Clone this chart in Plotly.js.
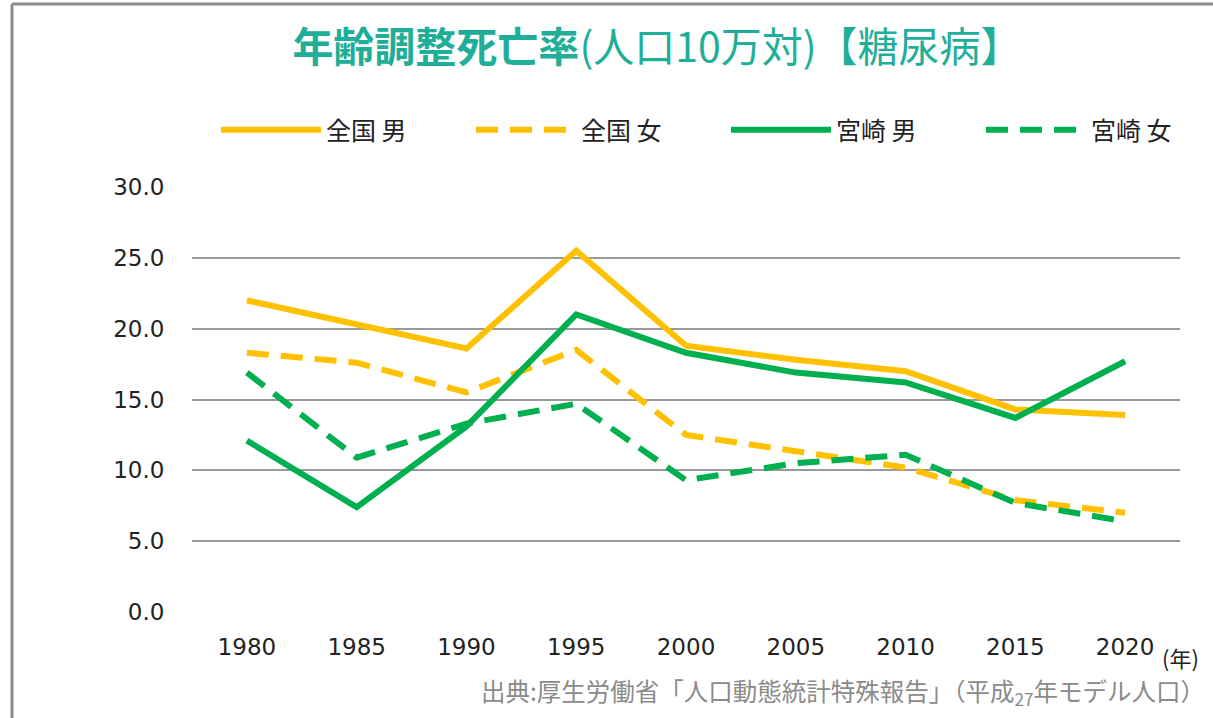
<!DOCTYPE html>
<html><head><meta charset="utf-8">
<script src="https://cdn.plot.ly/plotly-3.0.1.min.js"></script>
<style>html,body{margin:0;padding:0;background:#fff}#chart{width:1213px;height:718px}</style>
</head><body><div id="chart"></div>
<script>
const years = ['1980','1985','1990','1995','2000','2005','2010','2015','2020'];
const zenkokuMale   = [22.0, 20.3, 18.6, 25.5, 18.8, 17.8, 17.0, 14.3, 13.9];
const zenkokuFemale = [18.3, 17.6, 15.5, 18.5, 12.5, 11.4, 10.2, 7.9, 7.0];
const miyazakiMale  = [12.1, 7.4, 13.1, 21.0, 18.3, 16.9, 16.2, 13.7, 17.7];
const miyazakiFemale= [16.9, 10.9, 13.3, 14.7, 9.3, 10.5, 11.1, 7.7, 6.4];
const seriesNames = ['全国 男','全国 女','宮崎 男','宮崎 女'];

const YELLOW = '#FFC000', GREEN = '#00B050';
const W = 1213, H = 718, L = 192, R = 1180, T = 187, B = 612;
const px = x => (x - L) / (R - L);
const py = y => (B - y) / (B - T);

const traces = [
  {x: years, y: zenkokuMale, name: seriesNames[0], line:{color:YELLOW, width:6}},
  {x: years, y: zenkokuFemale, name: seriesNames[1], line:{color:YELLOW, width:6, dash:'22px,12px'}},
  {x: years, y: miyazakiMale, name: seriesNames[2], line:{color:GREEN, width:6}},
  {x: years, y: miyazakiFemale, name: seriesNames[3], line:{color:GREEN, width:6, dash:'22px,12px'}}
].map(t => Object.assign({type:'scatter', mode:'lines', hoverinfo:'skip'}, t));

const layout = {
  width: W, height: H,
  margin: {l: L, r: W - R, t: T, b: H - B, autoexpand: false},
  paper_bgcolor: '#fff', plot_bgcolor: '#fff',
  font: {family: 'DejaVu Sans, Verdana, sans-serif', color: '#222'},
  title: {
    text: '<b>年齢調整死亡率</b>(人口10万対)【糖尿病】',
    font: {family: '"Noto Sans CJK JP", sans-serif', size: 41, color: '#1FAE98'},
    x: 657 / W, xanchor: 'center', xref: 'container',
    y: 1 - 48 / H, yanchor: 'middle', yref: 'container'
  },
  xaxis: {
    type: 'category', range: [-0.5, 8.5], showgrid: false, zeroline: false, showline: false,
    ticks: 'outside', ticklen: 14, tickcolor: 'rgba(0,0,0,0)',
    tickfont: {size: 23, color: '#222'}
  },
  yaxis: {
    range: [0, 30], dtick: 5, tickformat: '.1f', tick0: 0,
    showgrid: true, gridcolor: '#999', gridwidth: 2,
    zeroline: false, showline: false,
    ticks: 'outside', ticklen: 22, tickcolor: 'rgba(0,0,0,0)',
    tickfont: {size: 23, color: '#222'}
  },
  showlegend: true,
  legend: {
    orientation: 'h', x: -0.001, xanchor: 'left',
    y: py(130), yanchor: 'middle',
    font: {family: '"Noto Sans CJK JP", sans-serif', size: 25, color: '#222'},
    entrywidth: 140, entrywidthmode: 'pixels', itemwidth: 100,
    bgcolor: 'rgba(0,0,0,0)', bordercolor: 'rgba(0,0,0,0)', borderwidth: 25
  },
  annotations: [
    {text: '(年)', xref: 'paper', yref: 'paper', x: px(1180), y: py(657), xanchor: 'center', yanchor: 'middle',
     showarrow: false, font: {family: '"Noto Sans CJK JP", sans-serif', size: 22, color: '#222'}},
    {text: '出典:厚生労働省「人口動態統計特殊報告」（平成<sub>27</sub>年モデル人口）', xref: 'paper', yref: 'paper',
     x: px(1207), y: py(692), xanchor: 'right', yanchor: 'middle', showarrow: false,
     font: {family: '"Noto Sans CJK JP", sans-serif', size: 24.5, color: '#8a8a8a'}}
  ],
  shapes: [
    {type: 'line', xref: 'paper', yref: 'paper', x0: px(12), x1: px(12), y0: py(H + 5), y1: py(4), line: {color: '#8c8c8c', width: 3}},
    {type: 'line', xref: 'paper', yref: 'paper', x0: px(12), x1: px(W + 5), y0: py(4), y1: py(4), line: {color: '#8c8c8c', width: 3}}
  ]
};
Plotly.newPlot('chart', traces, layout, {staticPlot: true, displayModeBar: false});
</script></body></html>
